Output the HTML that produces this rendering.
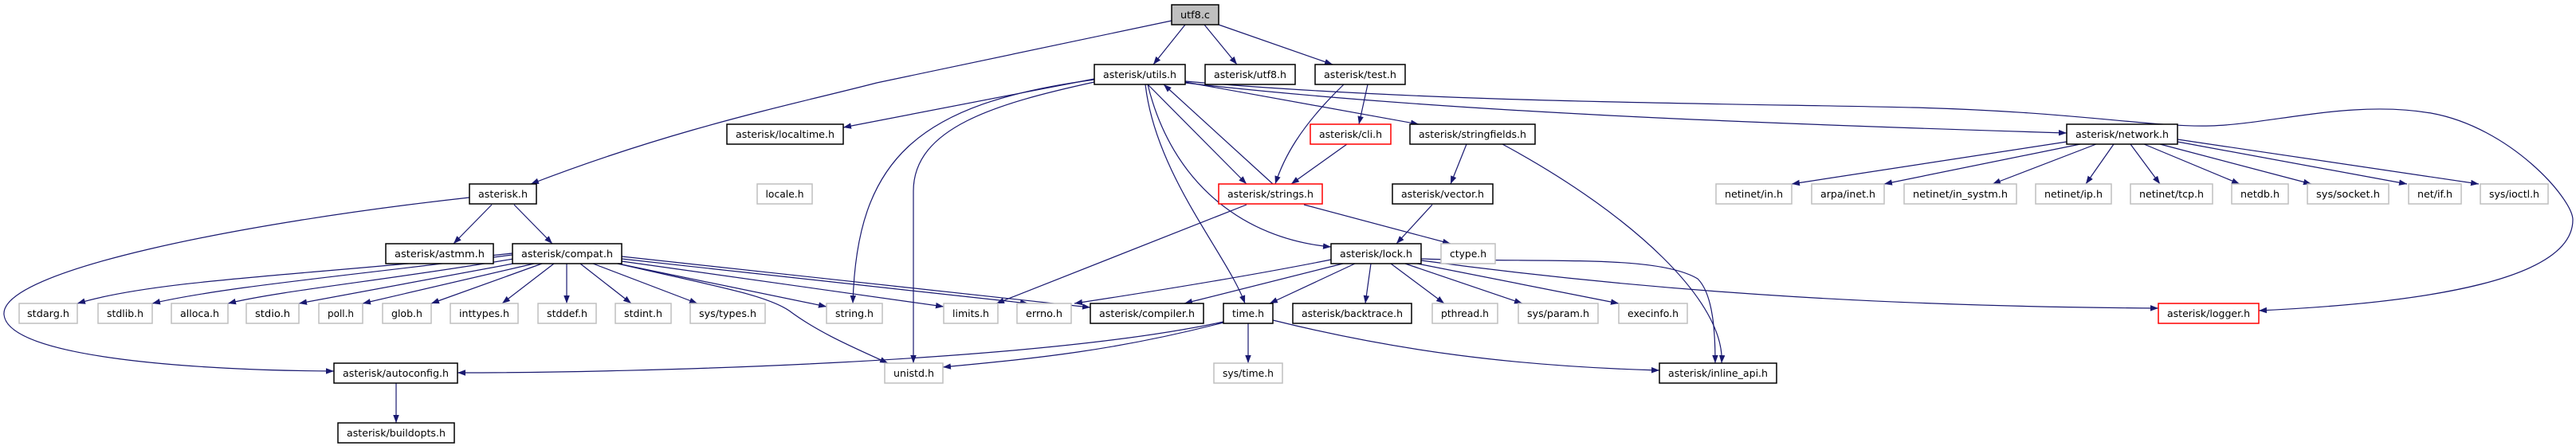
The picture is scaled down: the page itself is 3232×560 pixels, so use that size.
<!DOCTYPE html>
<html><head><meta charset="utf-8"><style>
html,body{margin:0;padding:0;background:#fff;}
svg{display:block;}
text{font-family:"DejaVu Sans","Liberation Sans",sans-serif;font-size:12px;}
</style></head><body>
<svg width="3232" height="560" viewBox="0 0 3232 560" xmlns="http://www.w3.org/2000/svg">
<defs>
<marker id="a" markerUnits="userSpaceOnUse" markerWidth="11" markerHeight="8" refX="10" refY="3.75" orient="auto">
<path d="M0,0 L10,3.75 L0,7.5 z" fill="#191970"/>
</marker>
</defs>
<g fill="none" stroke="#191970" stroke-width="1.2" marker-end="url(#a)">
<path d="M1470,26 L1100,104 C1000,130 850,160 666,231"/>
<path d="M1487,31 L1447,81"/>
<path d="M1511,31 L1552,81"/>
<path d="M1529,31 L1672,81"/>
<path d="M1373,99 L1058,160"/>
<path d="M1373,100 C1150,130 1075,200 1070,381"/>
<path d="M1373,103 C1250,130 1146,160 1146,240 L1146,456"/>
<path d="M1440,106 L1564,231"/>
<path d="M1597,231 L1460,106"/>
<path d="M1437,106 C1450,220 1540,320 1562,381"/>
<path d="M1440,106 C1470,230 1560,300 1670,310"/>
<path d="M1487,103 L1780,156"/>
<path d="M1487,104 C1800,140 2200,155 2593,167"/>
<path d="M1487,102 C1800,130 2200,130 2400,135 C2600,140 2700,160 2773,158 C2850,156 2950,125 3050,142 C3150,160 3228,250 3228,276 C3228,350 3050,380 2834,390"/>
<path d="M1716,106 L1705,156"/>
<path d="M1686,106 C1630,160 1610,200 1600,231"/>
<path d="M1690,181 L1620,231"/>
<path d="M1840,181 L1820,231"/>
<path d="M1885,181 C2050,270 2165,380 2160,456"/>
<path d="M1797,257 L1752,306"/>
<path d="M1564,257 L1250,381"/>
<path d="M1636,257 L1820,306"/>
<path d="M1670,326 C1550,350 1420,370 1348,381"/>
<path d="M1685,331 L1486,381"/>
<path d="M1700,331 L1593,381"/>
<path d="M1720,331 L1713,381"/>
<path d="M1745,331 L1812,381"/>
<path d="M1763,331 L1910,381"/>
<path d="M1778,331 L2031,381"/>
<path d="M1783,327 C2100,370 2400,385 2708,387"/>
<path d="M1783,325 C1950,330 2080,320 2130,350 C2150,370 2152,420 2152,456"/>
<path d="M1535,404 C1300,455 800,468 574,468"/>
<path d="M1535,405 C1400,440 1300,450 1183,461"/>
<path d="M1566,406 L1566,456"/>
<path d="M1597,402 C1750,440 1900,460 2082,465"/>
<path d="M617,257 L569,306"/>
<path d="M645,257 L693,306"/>
<path d="M589,248 C300,280 0,340 5,395 C10,450 250,465 419,466"/>
<path d="M643,318 C400,345 200,350 97,381"/>
<path d="M643,320 C450,345 280,360 191,381"/>
<path d="M650,324 C500,350 350,365 286,381"/>
<path d="M660,328 L375,381"/>
<path d="M670,331 L455,381"/>
<path d="M680,331 L541,381"/>
<path d="M695,331 L630,381"/>
<path d="M711,331 L711,381"/>
<path d="M728,331 L792,381"/>
<path d="M744,331 L875,381"/>
<path d="M775,331 L1037,385"/>
<path d="M780,328 L1184,385"/>
<path d="M780,325 L1290,381"/>
<path d="M780,322 L1368,386"/>
<path d="M775,331 C900,360 960,370 990,390 C1030,420 1080,440 1114,456"/>
<path d="M497,481 L497,531"/>
<path d="M2593,178 L2248,231"/>
<path d="M2610,181 L2364,231"/>
<path d="M2630,181 L2500,231"/>
<path d="M2652,181 L2617,231"/>
<path d="M2673,181 L2710,231"/>
<path d="M2690,181 L2810,231"/>
<path d="M2710,181 L2900,231"/>
<path d="M2732,178 L3020,231"/>
<path d="M2732,175 L3110,231"/>
</g>
<g text-anchor="middle">
<g fill="#fff" stroke="#000" stroke-width="1.5">
<rect x="1373" y="81" width="114" height="25"/>
<rect x="1512" y="81" width="113" height="25"/>
<rect x="1650" y="81" width="113" height="25"/>
<rect x="1769" y="156" width="157" height="25"/>
<rect x="1747" y="231" width="126" height="25"/>
<rect x="1670" y="306" width="113" height="25"/>
<rect x="1368" y="381" width="142" height="25"/>
<rect x="1535" y="381" width="62" height="25"/>
<rect x="1622" y="381" width="149" height="25"/>
<rect x="2082" y="456" width="147" height="25"/>
<rect x="912" y="156" width="146" height="25"/>
<rect x="589" y="231" width="84" height="25"/>
<rect x="484" y="306" width="135" height="25"/>
<rect x="643" y="306" width="137" height="25"/>
<rect x="419" y="456" width="155" height="25"/>
<rect x="424" y="531" width="146" height="25"/>
<rect x="2593" y="156" width="139" height="25"/>
</g>
<rect x="1470" y="6" width="59" height="25" fill="#bfbfbf" stroke="#000" stroke-width="1.5"/>
<g fill="#fff" stroke="#ff0000" stroke-width="1.5">
<rect x="1644" y="156" width="101" height="25"/>
<rect x="1529" y="231" width="130" height="25"/>
<rect x="2708" y="381" width="126" height="25"/>
</g>
<g fill="#fff" stroke="#bfbfbf" stroke-width="1.5">
<rect x="950" y="231" width="69" height="25"/>
<rect x="1808" y="306" width="68" height="25"/>
<rect x="24" y="381" width="73" height="25"/>
<rect x="123" y="381" width="68" height="25"/>
<rect x="215" y="381" width="71" height="25"/>
<rect x="309" y="381" width="66" height="25"/>
<rect x="400" y="381" width="55" height="25"/>
<rect x="480" y="381" width="61" height="25"/>
<rect x="565" y="381" width="85" height="25"/>
<rect x="675" y="381" width="73" height="25"/>
<rect x="772" y="381" width="70" height="25"/>
<rect x="866" y="381" width="94" height="25"/>
<rect x="1037" y="381" width="70" height="25"/>
<rect x="1184" y="381" width="68" height="25"/>
<rect x="1276" y="381" width="68" height="25"/>
<rect x="1797" y="381" width="82" height="25"/>
<rect x="1905" y="381" width="100" height="25"/>
<rect x="2031" y="381" width="86" height="25"/>
<rect x="1110" y="456" width="73" height="25"/>
<rect x="1523" y="456" width="86" height="25"/>
<rect x="2153" y="231" width="95" height="25"/>
<rect x="2273" y="231" width="91" height="25"/>
<rect x="2389" y="231" width="141" height="25"/>
<rect x="2554" y="231" width="95" height="25"/>
<rect x="2673" y="231" width="103" height="25"/>
<rect x="2800" y="231" width="71" height="25"/>
<rect x="2895" y="231" width="102" height="25"/>
<rect x="3022" y="231" width="66" height="25"/>
<rect x="3112" y="231" width="85" height="25"/>
</g>
<g fill="#000">
<text x="1499.5" y="23" textLength="37" lengthAdjust="spacingAndGlyphs">utf8.c</text>
<text x="1430" y="98" textLength="92" lengthAdjust="spacingAndGlyphs">asterisk/utils.h</text>
<text x="1568.5" y="98" textLength="91" lengthAdjust="spacingAndGlyphs">asterisk/utf8.h</text>
<text x="1706.5" y="98" textLength="91" lengthAdjust="spacingAndGlyphs">asterisk/test.h</text>
<text x="1694.5" y="173" textLength="79" lengthAdjust="spacingAndGlyphs">asterisk/cli.h</text>
<text x="1847.5" y="173" textLength="135" lengthAdjust="spacingAndGlyphs">asterisk/stringfields.h</text>
<text x="985" y="173" textLength="124" lengthAdjust="spacingAndGlyphs">asterisk/localtime.h</text>
<text x="2662.5" y="173" textLength="117" lengthAdjust="spacingAndGlyphs">asterisk/network.h</text>
<text x="631" y="248" textLength="62" lengthAdjust="spacingAndGlyphs">asterisk.h</text>
<text x="984.5" y="248" textLength="48" lengthAdjust="spacingAndGlyphs">locale.h</text>
<text x="1594" y="248" textLength="108" lengthAdjust="spacingAndGlyphs">asterisk/strings.h</text>
<text x="1810" y="248" textLength="104" lengthAdjust="spacingAndGlyphs">asterisk/vector.h</text>
<text x="2200.5" y="248" textLength="73" lengthAdjust="spacingAndGlyphs">netinet/in.h</text>
<text x="2318.5" y="248" textLength="69" lengthAdjust="spacingAndGlyphs">arpa/inet.h</text>
<text x="2459.5" y="248" textLength="119" lengthAdjust="spacingAndGlyphs">netinet/in_systm.h</text>
<text x="2601.5" y="248" textLength="73" lengthAdjust="spacingAndGlyphs">netinet/ip.h</text>
<text x="2724.5" y="248" textLength="81" lengthAdjust="spacingAndGlyphs">netinet/tcp.h</text>
<text x="2835.5" y="248" textLength="49" lengthAdjust="spacingAndGlyphs">netdb.h</text>
<text x="2946" y="248" textLength="80" lengthAdjust="spacingAndGlyphs">sys/socket.h</text>
<text x="3055" y="248" textLength="44" lengthAdjust="spacingAndGlyphs">net/if.h</text>
<text x="3154.5" y="248" textLength="63" lengthAdjust="spacingAndGlyphs">sys/ioctl.h</text>
<text x="551.5" y="323" textLength="113" lengthAdjust="spacingAndGlyphs">asterisk/astmm.h</text>
<text x="711.5" y="323" textLength="115" lengthAdjust="spacingAndGlyphs">asterisk/compat.h</text>
<text x="1726.5" y="323" textLength="91" lengthAdjust="spacingAndGlyphs">asterisk/lock.h</text>
<text x="1842" y="323" textLength="46" lengthAdjust="spacingAndGlyphs">ctype.h</text>
<text x="60.5" y="398" textLength="53" lengthAdjust="spacingAndGlyphs">stdarg.h</text>
<text x="157" y="398" textLength="46" lengthAdjust="spacingAndGlyphs">stdlib.h</text>
<text x="250.5" y="398" textLength="49" lengthAdjust="spacingAndGlyphs">alloca.h</text>
<text x="342" y="398" textLength="44" lengthAdjust="spacingAndGlyphs">stdio.h</text>
<text x="427.5" y="398" textLength="33" lengthAdjust="spacingAndGlyphs">poll.h</text>
<text x="510.5" y="398" textLength="39" lengthAdjust="spacingAndGlyphs">glob.h</text>
<text x="607.5" y="398" textLength="63" lengthAdjust="spacingAndGlyphs">inttypes.h</text>
<text x="711.5" y="398" textLength="51" lengthAdjust="spacingAndGlyphs">stddef.h</text>
<text x="807" y="398" textLength="48" lengthAdjust="spacingAndGlyphs">stdint.h</text>
<text x="913" y="398" textLength="72" lengthAdjust="spacingAndGlyphs">sys/types.h</text>
<text x="1072" y="398" textLength="48" lengthAdjust="spacingAndGlyphs">string.h</text>
<text x="1218" y="398" textLength="46" lengthAdjust="spacingAndGlyphs">limits.h</text>
<text x="1310" y="398" textLength="46" lengthAdjust="spacingAndGlyphs">errno.h</text>
<text x="1439" y="398" textLength="120" lengthAdjust="spacingAndGlyphs">asterisk/compiler.h</text>
<text x="1566" y="398" textLength="40" lengthAdjust="spacingAndGlyphs">time.h</text>
<text x="1696.5" y="398" textLength="127" lengthAdjust="spacingAndGlyphs">asterisk/backtrace.h</text>
<text x="1838" y="398" textLength="60" lengthAdjust="spacingAndGlyphs">pthread.h</text>
<text x="1955" y="398" textLength="78" lengthAdjust="spacingAndGlyphs">sys/param.h</text>
<text x="2074" y="398" textLength="64" lengthAdjust="spacingAndGlyphs">execinfo.h</text>
<text x="2771" y="398" textLength="104" lengthAdjust="spacingAndGlyphs">asterisk/logger.h</text>
<text x="496.5" y="473" textLength="133" lengthAdjust="spacingAndGlyphs">asterisk/autoconfig.h</text>
<text x="1146.5" y="473" textLength="51" lengthAdjust="spacingAndGlyphs">unistd.h</text>
<text x="1566" y="473" textLength="64" lengthAdjust="spacingAndGlyphs">sys/time.h</text>
<text x="2155.5" y="473" textLength="125" lengthAdjust="spacingAndGlyphs">asterisk/inline_api.h</text>
<text x="497" y="548" textLength="124" lengthAdjust="spacingAndGlyphs">asterisk/buildopts.h</text>
</g>
</g>
</svg>
</body></html>
